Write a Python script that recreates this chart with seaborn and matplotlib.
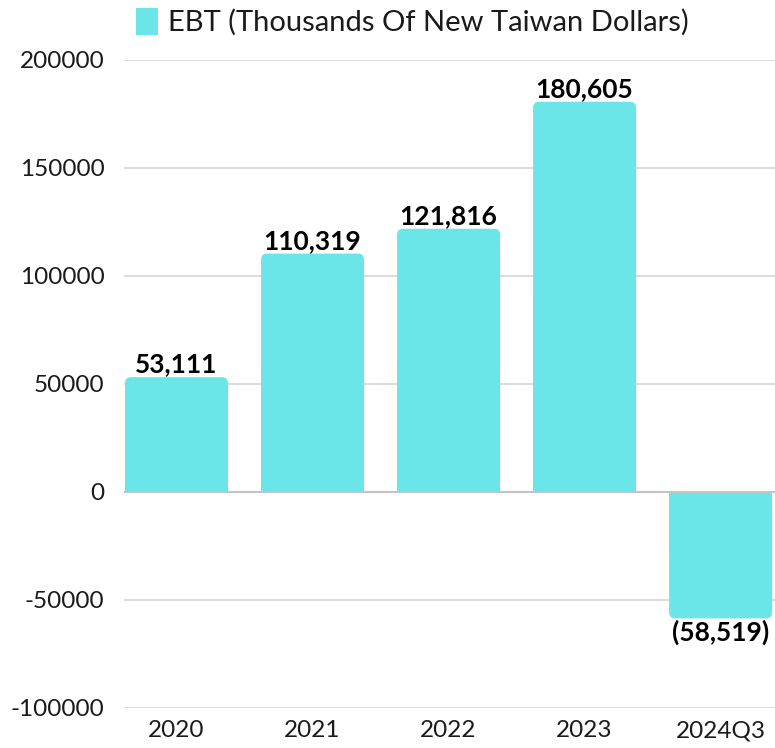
import matplotlib
matplotlib.use("Agg")
import matplotlib.pyplot as plt
import seaborn as sns
import pandas as pd
from matplotlib.patches import FancyBboxPatch, Rectangle, Patch

categories = ["2020", "2021", "2022", "2023", "2024Q3"]
values = [53111, 110319, 121816, 180605, -58519]
series_name = "EBT (Thousands Of New Taiwan Dollars)"
yticks = [-100000, -50000, 0, 50000, 100000, 150000, 200000]

color = "#6ae5e8"

sns.set_theme(style="white")
plt.rcParams["font.family"] = ["Lato", "DejaVu Sans"]

df = pd.DataFrame({"period": categories, "value": values})

fig = plt.figure(figsize=(7.75, 7.48), dpi=100)
ax = fig.add_axes([0.16, 0.0535, 0.84, 0.8665])

sns.barplot(data=df, x="period", y="value", color=color, width=0.757,
            saturation=1, ax=ax, zorder=3)

ax.set_ylim(-100000, 200000)
ax.set_xlim(-0.386, 4.40)
ax.set_yticks(yticks)
ax.set_yticklabels([str(t) for t in yticks])
ax.grid(axis="y", color="#dcdcdc", linewidth=1.5, zorder=0)
ax.axhline(0, color="#c4c4c4", linewidth=1.5, zorder=4)
for s in ax.spines.values():
    s.set_visible(False)
ax.tick_params(axis="both", length=0, labelsize=17.5, colors="#1a1a1a")
ax.tick_params(axis="x", pad=9)
ax.tick_params(axis="y", pad=14)
ax.set_xlabel("")
ax.set_ylabel("")

# Rounded outer corners
fig.canvas.draw()
x_per_px = (ax.get_xlim()[1] - ax.get_xlim()[0]) / ax.get_window_extent().width
y_per_px = (ax.get_ylim()[1] - ax.get_ylim()[0]) / ax.get_window_extent().height
r = 6 * x_per_px
aspect = y_per_px / x_per_px
for p in list(ax.patches):
    x0, w = p.get_x(), p.get_width()
    y0, h = p.get_y(), p.get_height()
    lo, hi = min(y0, y0 + h), max(y0, y0 + h)
    p.set_visible(False)
    ax.add_patch(FancyBboxPatch((x0, lo), w, hi - lo,
                                boxstyle=f"round,pad=0,rounding_size={r}",
                                mutation_aspect=aspect, facecolor=color,
                                edgecolor="none", zorder=3))
    if hi > 0:
        ax.add_patch(Rectangle((x0, 0), w, hi / 2, facecolor=color,
                               edgecolor="none", zorder=3))
    else:
        ax.add_patch(Rectangle((x0, lo / 2), w, -lo / 2, facecolor=color,
                               edgecolor="none", zorder=3))

for i, v in enumerate(values):
    if v >= 0:
        ax.text(i, v + 400, f"{v:,}", ha="center", va="bottom",
                fontsize=19, fontweight="bold", color="black", zorder=5)
    else:
        ax.text(i, v - 600, f"({-v:,})", ha="center", va="top",
                fontsize=19, fontweight="bold", color="black", zorder=5)

handle = Patch(facecolor=color, edgecolor="none")
fig.legend([handle], [series_name], loc="center",
           bbox_to_anchor=(0.532, 0.9706), frameon=False, fontsize=21,
           handlelength=0.76, handleheight=1.05, handletextpad=0.35,
           labelcolor="#1a1a1a", borderpad=0)

fig.savefig("out.png", dpi=100)
